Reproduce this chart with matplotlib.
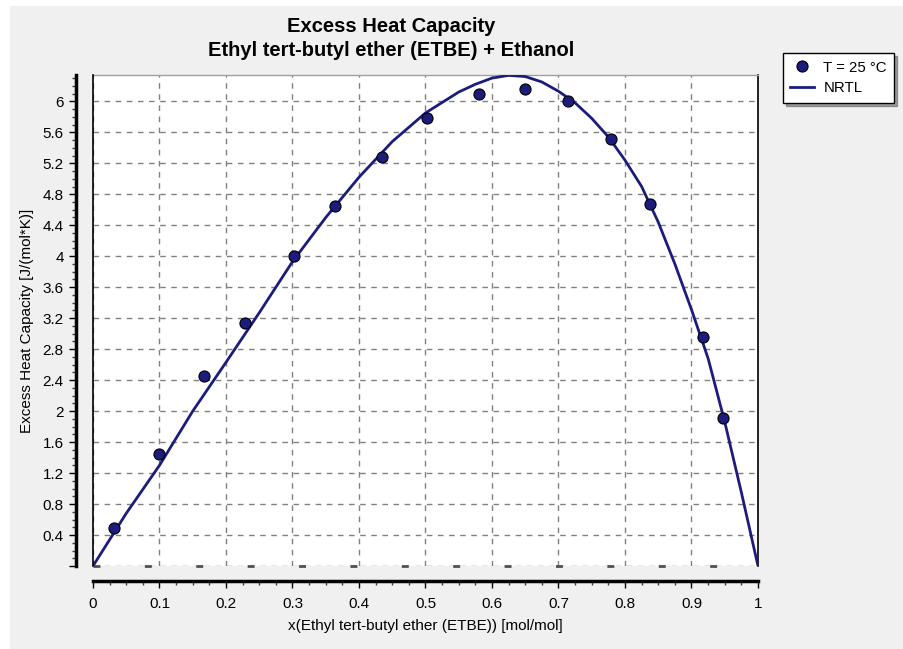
import matplotlib
matplotlib.use('Agg')
import matplotlib.pyplot as plt
from matplotlib.patches import Rectangle
from matplotlib.ticker import MultipleLocator, FixedLocator

plt.rcParams['font.family'] = ['Liberation Sans', 'DejaVu Sans']

# measured points, T = 25 C
x_exp = [0.031, 0.100, 0.167, 0.228, 0.302, 0.364, 0.434, 0.502, 0.580,
         0.650, 0.714, 0.779, 0.838, 0.917, 0.948]
cp_exp = [0.49, 1.44, 2.45, 3.14, 4.00, 4.65, 5.28, 5.78, 6.10,
          6.16, 6.00, 5.51, 4.68, 2.96, 1.91]

# NRTL curve
x_nrtl = [0.0, 0.025, 0.05, 0.1, 0.15, 0.2, 0.25, 0.3, 0.35, 0.4, 0.45, 0.5,
          0.55, 0.575, 0.6, 0.625, 0.65, 0.675, 0.7, 0.725, 0.75, 0.775, 0.8,
          0.825, 0.85, 0.875, 0.9, 0.925, 0.95, 0.975, 1.0]
cp_nrtl = [0.0, 0.34, 0.68, 1.30, 2.00, 2.63, 3.27, 3.93, 4.50, 5.02, 5.48, 5.85,
           6.12, 6.22, 6.30, 6.335, 6.32, 6.25, 6.13, 5.98, 5.78, 5.54, 5.24,
           4.90, 4.44, 3.90, 3.31, 2.68, 1.86, 0.95, 0.0]

y_ticks = [0, 0.4, 0.8, 1.2, 1.6, 2, 2.4, 2.8, 3.2, 3.6, 4, 4.4, 4.8, 5.2, 5.6, 6]
y_labels = [''] + ['%g' % v for v in y_ticks[1:]]
x_ticks = [0, 0.1, 0.2, 0.3, 0.4, 0.5, 0.6, 0.7, 0.8, 0.9, 1]
x_labels = ['%g' % v for v in x_ticks]

navy = '#1c1c7c'
grey_bg = '#f0f0f0'

fig = plt.figure(figsize=(9.04, 6.49), dpi=100, facecolor='white')
fig.patches.append(Rectangle((10 / 904, 0), 1, 1 - 6 / 649, transform=fig.transFigure,
                             facecolor=grey_bg, edgecolor='none', zorder=-10))

ax = fig.add_axes([93 / 904, 1 - 566 / 649, 665 / 904, 491 / 649])
ax.set_facecolor('white')

ax.plot(x_nrtl, cp_nrtl, color=navy, lw=2, label='NRTL', zorder=3)
ax.plot(x_exp, cp_exp, 'o', color=navy, mec='black', mew=0.8, ms=8,
        label='T = 25 °C', zorder=4)

ax.set_xlim(0, 1)
ax.set_ylim(0, 6.34)
ax.xaxis.set_major_locator(FixedLocator(x_ticks))
ax.set_xticklabels(x_labels)
ax.xaxis.set_minor_locator(MultipleLocator(0.025))
ax.yaxis.set_major_locator(FixedLocator(y_ticks))
ax.set_yticklabels(y_labels)
ax.yaxis.set_minor_locator(MultipleLocator(0.1))

ax.grid(True, which='major', color='#808080', linestyle=(0, (4, 4)), lw=1)
ax.axhline(0, color='#505050', linestyle=(0, (2.5, 16)), lw=2, clip_on=False, zorder=2)

ax.spines['left'].set_position(('outward', 12))
ax.spines['bottom'].set_position(('outward', 11))
ax.spines['left'].set_linewidth(2.5)
ax.spines['bottom'].set_linewidth(2.5)
ax.spines['right'].set_color('black')
ax.spines['right'].set_linewidth(1.2)
ax.spines['top'].set_color('#a0a0a0')
ax.spines['top'].set_linewidth(1)
ax.axvline(0, color='black', lw=1.2, clip_on=False, zorder=5)

ax.tick_params(axis='both', which='major', direction='out', length=5, width=1,
               labelsize=11, colors='black')
ax.tick_params(axis='both', which='minor', direction='out', length=3, width=1, colors='#404040')
ax.tick_params(axis='x', which='major', pad=6)
ax.tick_params(axis='y', which='major', pad=4)

ax.set_xlabel('x(Ethyl tert-butyl ether (ETBE)) [mol/mol]', fontsize=11, labelpad=6)
ax.set_ylabel('Excess Heat Capacity [J/(mol*K)]', fontsize=11, labelpad=6)

fig.text(391 / 904, 1 - 27 / 649, 'Excess Heat Capacity', ha='center', va='center',
         fontsize=14.5, fontweight='bold')
fig.text(391 / 904, 1 - 51 / 649, 'Ethyl tert-butyl ether (ETBE) + Ethanol', ha='center',
         va='center', fontsize=14.5, fontweight='bold')

handles, labels = ax.get_legend_handles_labels()
leg = fig.legend(handles[::-1], labels[::-1], loc='upper left',
                 bbox_to_anchor=(783 / 904, 1 - 53 / 649), fontsize=10.8,
                 frameon=True, fancybox=False, shadow=True, edgecolor='black',
                 framealpha=1, borderpad=0.5, handlelength=1.6, handletextpad=0.6,
                 labelspacing=0.45, borderaxespad=0)
leg.get_frame().set_linewidth(1)

fig.savefig('out.png', dpi=100, facecolor=fig.get_facecolor())
